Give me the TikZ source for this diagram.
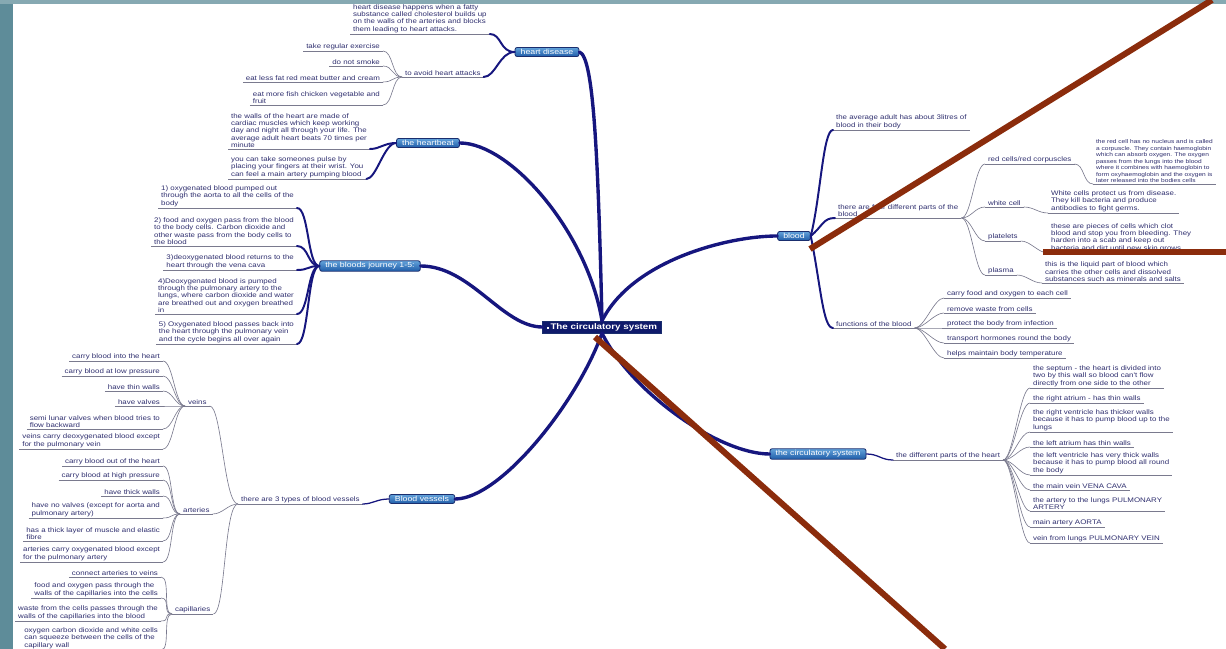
\documentclass[tikz,border=0pt]{standalone}
\usepackage{fontspec}
\usepackage{tikz}
\usetikzlibrary{positioning}
\usepackage{xcolor}
\definecolor{navyline}{HTML}{16167E}
\definecolor{inkblue}{HTML}{2E2E6E}
\definecolor{twiggrey}{HTML}{7A7A8E}
\definecolor{boxtop}{HTML}{62A2DA}
\definecolor{boxbot}{HTML}{1F5CA8}
\definecolor{boxedge}{HTML}{1A2E6E}
\definecolor{hubfill}{HTML}{0F1A6B}
\definecolor{rust}{HTML}{8B2C0C}
\definecolor{slate}{HTML}{5E8C99}
\newfontfamily\mapfont[FakeStretch=1.2]{Liberation Sans}
\newcommand{\leaffont}{\mapfont\fontsize{4.7}{5.2}\selectfont}
\newcommand{\smallleaffont}{\mapfont\fontsize{3.9}{4.6}\selectfont}
\newcommand{\boxfont}{\mapfont\fontsize{5.2}{6}\selectfont}
\newcommand{\hubfont}{\mapfont\bfseries\fontsize{5.8}{7}\selectfont}

\begin{document}
\begin{tikzpicture}[x=0.025cm, y=-0.025cm,
        hub/.style={rectangle, draw=boxedge, fill=hubfill, text=white,
          font=\hubfont, inner xsep=3pt, inner ysep=1.5pt},
        topic/.style={rectangle, rounded corners=1.5pt, draw=boxedge,
          line width=0.6pt, top color=boxtop, bottom color=boxbot,
          text=white, font=\boxfont, inner xsep=4pt, inner ysep=1.3pt},
        uline/.style={draw=twiggrey, line width=0.45pt},
        leaf/.style={font=\leaffont, text=inkblue, align=left,
          inner xsep=2pt, inner ysep=0.8pt,
          append after command={(\tikzlastnode.south west)
            edge[uline] (\tikzlastnode.south east)}},
        twig/.style={draw=twiggrey, line width=0.45pt},
        trunk/.style={draw=navyline, line width=2.4pt, line cap=round},
        bough/.style={draw=navyline, line width=1.4pt, line cap=round},
        slash/.style={draw=rust, line width=4.3pt},
      ]

      \useasboundingbox (0,0) rectangle (1226,649);
      \clip (0,0) rectangle (1226,649);

      % Slide edges
      \fill[slate] (0,0) rectangle (13,649);
      \fill[slate!75] (0,0) rectangle (1226,4);

      % Centre
      \node[hub] (cs) at (602,327) {\rule{1.6pt}{1.6pt}\,The circulatory system};

      % Main topics
      \node[topic] (hd) at (547,52) {heart disease};
      \node[topic] (hb) at (428,143) {the heartbeat};
      \node[topic] (bj) at (370,266) {the bloods journey 1-5:};
      \node[topic] (bv) at (422,499) {Blood vessels};
      \node[topic] (bl) at (794,236) {blood};
      \node[topic] (cr) at (818,454) {the circulatory system};

      % Trunks
      \draw[trunk] (cs.north) .. controls +(-4,-170) and +(14,4) .. (hd.east);
      \draw[trunk] (cs.north) .. controls +(-15,-90) and +(50,0) .. (hb.east);
      \draw[trunk] (cs.west) .. controls +(-40,0) and +(50,0) .. (bj.east);
      \draw[trunk] (cs.south) .. controls +(-25,70) and +(45,0) .. (bv.east);
      \draw[trunk] (cs.north) .. controls +(30,-60) and +(-50,0) .. (bl.west);
      \draw[trunk] (cs.south) .. controls +(30,60) and +(-50,0) .. (cr.west);

      % Heart disease
      \node[leaf, anchor=south west] (hdinfo) at (350,34)
        {heart disease happens when a fatty\\substance called cholesterol builds up\\on the walls of the arteries and blocks\\them leading to heart attacks.};
      \node[leaf, anchor=south west] (avoid) at (402,77) {to avoid heart attacks};
      \node[leaf, anchor=south east] (av1) at (383,51) {take regular exercise};
      \node[leaf, anchor=south east] (av2) at (383,66) {do not smoke};
      \node[leaf, anchor=south east] (av3) at (383,82) {eat less fat red meat butter and cream};
      \node[leaf, anchor=south east] (av4) at (383,105) {eat more fish chicken vegetable and\\fruit};
      \draw[bough] (hd.west) .. controls +(-15,0) and +(12,0) .. (hdinfo.south east);
      \draw[bough] (hd.west) .. controls +(-15,0) and +(12,0) .. (avoid.south east);
      \draw[twig] (avoid.south west) .. controls +(-10,0) and +(10,0) .. (av1.south east);
      \draw[twig] (avoid.south west) .. controls +(-10,0) and +(10,0) .. (av2.south east);
      \draw[twig] (avoid.south west) .. controls +(-10,0) and +(10,0) .. (av3.south east);
      \draw[twig] (avoid.south west) .. controls +(-10,0) and +(10,0) .. (av4.south east);

      % Heartbeat
      \node[leaf, anchor=south west] (hb1) at (228,149)
        {the walls of the heart are made of\\cardiac muscles which keep working\\day and night all through your life.  The\\average adult heart beats 70 times per\\minute};
      \node[leaf, anchor=south west] (hb2) at (228,179)
        {you can take someones pulse by\\placing your fingers at their wrist.  You\\can feel a main artery pumping blood};
      \draw[bough] (hb.west) .. controls +(-12,0) and +(10,0) .. (hb1.south east);
      \draw[bough] (hb.west) .. controls +(-12,0) and +(10,0) .. (hb2.south east);

      % Bloods journey
      \node[leaf, anchor=south east] (bj1) at (297,208)
        {1) oxygenated blood pumped out\\through the aorta to all the cells of the\\body};
      \node[leaf, anchor=south east] (bj2) at (297,246)
        {2) food and oxygen pass from the blood\\to the body cells. Carbon dioxide and\\other waste pass from the body cells to\\the blood};
      \node[leaf, anchor=south east] (bj3) at (297,270)
        {3)deoxygenated blood returns to the\\heart through the vena cava};
      \node[leaf, anchor=south east] (bj4) at (297,314)
        {4)Deoxygenated blood is pumped\\through the pulmonary artery to the\\lungs, where carbon dioxide and water\\are breathed out and oxygen breathed\\in};
      \node[leaf, anchor=south east] (bj5) at (297,344)
        {5) Oxygenated blood passes back into\\the heart through the pulmonary vein\\and the cycle begins all over again};
      \draw[bough] (bj.west) .. controls +(-12,0) and +(12,0) .. (bj1.south east);
      \draw[bough] (bj.west) .. controls +(-12,0) and +(12,0) .. (bj2.south east);
      \draw[bough] (bj.west) .. controls +(-12,0) and +(12,0) .. (bj3.south east);
      \draw[bough] (bj.west) .. controls +(-12,0) and +(12,0) .. (bj4.south east);
      \draw[bough] (bj.west) .. controls +(-12,0) and +(12,0) .. (bj5.south east);

      % Blood vessels
      \node[leaf, anchor=south west] (bvinfo) at (238,504) {there are 3 types of blood vessels};
      \node[leaf, anchor=south west] (veins) at (185,406) {veins};
      \node[leaf, anchor=south west] (arteries) at (180,514) {arteries};
      \node[leaf, anchor=south west] (caps) at (172,614) {capillaries};
      \draw[bough, line width=0.9pt] (bv.west) .. controls +(-12,0) and +(10,0) .. (bvinfo.south east);
      \draw[twig] (bvinfo.south west) .. controls +(-14,0) and +(12,0) .. (veins.south east);
      \draw[twig] (bvinfo.south west) .. controls +(-10,0) and +(10,0) .. (arteries.south east);
      \draw[twig] (bvinfo.south west) .. controls +(-14,0) and +(12,0) .. (caps.south east);

      % Veins
      \node[leaf, anchor=south east] (ve1) at (163,361) {carry blood into the heart};
      \node[leaf, anchor=south east] (ve2) at (163,376) {carry blood at low pressure};
      \node[leaf, anchor=south east] (ve3) at (163,391) {have thin walls};
      \node[leaf, anchor=south east] (ve4) at (163,406) {have valves};
      \node[leaf, anchor=south east] (ve5) at (163,429) {semi lunar valves when blood tries to\\flow backward};
      \node[leaf, anchor=south east] (ve6) at (163,449) {veins carry deoxygenated blood except\\for the pulmonary vein};
      \draw[twig] (veins.south west) .. controls +(-10,0) and +(10,0) .. (ve1.south east);
      \draw[twig] (veins.south west) .. controls +(-10,0) and +(10,0) .. (ve2.south east);
      \draw[twig] (veins.south west) .. controls +(-10,0) and +(10,0) .. (ve3.south east);
      \draw[twig] (veins.south west) .. controls +(-10,0) and +(10,0) .. (ve4.south east);
      \draw[twig] (veins.south west) .. controls +(-10,0) and +(10,0) .. (ve5.south east);
      \draw[twig] (veins.south west) .. controls +(-10,0) and +(10,0) .. (ve6.south east);

      % Arteries
      \node[leaf, anchor=south east] (ar1) at (163,466) {carry blood out of the heart};
      \node[leaf, anchor=south east] (ar2) at (163,480) {carry blood at high pressure};
      \node[leaf, anchor=south east] (ar3) at (163,496) {have thick walls};
      \node[leaf, anchor=south east] (ar4) at (163,518) {have no valves (except for aorta and\\pulmonary artery)};
      \node[leaf, anchor=south east] (ar5) at (163,541) {has a thick layer of muscle and elastic\\fibre};
      \node[leaf, anchor=south east] (ar6) at (163,562) {arteries carry oxygenated blood except\\for the pulmonary artery};
      \draw[twig] (arteries.south west) .. controls +(-10,0) and +(10,0) .. (ar1.south east);
      \draw[twig] (arteries.south west) .. controls +(-10,0) and +(10,0) .. (ar2.south east);
      \draw[twig] (arteries.south west) .. controls +(-10,0) and +(10,0) .. (ar3.south east);
      \draw[twig] (arteries.south west) .. controls +(-10,0) and +(10,0) .. (ar4.south east);
      \draw[twig] (arteries.south west) .. controls +(-10,0) and +(10,0) .. (ar5.south east);
      \draw[twig] (arteries.south west) .. controls +(-10,0) and +(10,0) .. (ar6.south east);

      % Capillaries
      \node[leaf, anchor=south east] (ca1) at (161,577) {connect arteries to veins};
      \node[leaf, anchor=south east] (ca2) at (161,598) {food and oxygen pass through the\\walls of the capillaries into the cells};
      \node[leaf, anchor=south east] (ca3) at (161,621) {waste  from the cells passes through the\\walls of the capillaries into the blood};
      \node[leaf, anchor=south east] (ca4) at (161,650) {oxygen carbon dioxide and white cells\\can squeeze between the cells of the\\capillary wall};
      \draw[twig] (caps.south west) .. controls +(-10,0) and +(10,0) .. (ca1.south east);
      \draw[twig] (caps.south west) .. controls +(-10,0) and +(10,0) .. (ca2.south east);
      \draw[twig] (caps.south west) .. controls +(-10,0) and +(10,0) .. (ca3.south east);
      \draw[twig] (caps.south west) .. controls +(-10,0) and +(10,0) .. (ca4.south east);

      % Blood
      \node[leaf, anchor=south west] (bl1) at (833,130) {the average adult has about 3litres of\\blood in their body};
      \node[leaf, anchor=south west] (bl2) at (835,218) {there are four different parts of the\\blood};
      \node[leaf, anchor=south west] (bl3) at (833,328) {functions of the blood};
      \draw[bough] (bl.east) .. controls +(10,-40) and +(-10,0) .. (bl1.south west);
      \draw[bough] (bl.east) .. controls +(12,-10) and +(-12,0) .. (bl2.south west);
      \draw[bough] (bl.east) .. controls +(10,50) and +(-10,0) .. (bl3.south west);

      % Parts of the blood
      \node[leaf, anchor=south west] (rc) at (985,164) {red cells/red corpuscles};
      \node[leaf, anchor=south west] (wc) at (985,207) {white cell};
      \node[leaf, anchor=south west] (pl) at (985,241) {platelets};
      \node[leaf, anchor=south west] (pm) at (985,275) {plasma};
      \draw[twig] (bl2.south east) .. controls +(10,0) and +(-10,0) .. (rc.south west);
      \draw[twig] (bl2.south east) .. controls +(10,0) and +(-10,0) .. (wc.south west);
      \draw[twig] (bl2.south east) .. controls +(10,0) and +(-10,0) .. (pl.south west);
      \draw[twig] (bl2.south east) .. controls +(10,0) and +(-10,0) .. (pm.south west);

      \node[leaf, font=\smallleaffont, anchor=south west] (rcinfo) at (1093,184)
        {the red cell has no nucleus and is called\\a corpuscle.  They contain haemoglobin\\which can absorb oxygen. The oxygen\\passes from the lungs into the  blood\\where it combines with haemoglobin to\\form oxyhaemoglobin and the oxygen is\\later released into the bodies cells};
      \node[leaf, anchor=south west] (wcinfo) at (1048,213)
        {White cells protect us from disease.\\They kill bacteria and produce\\antibodies to fight germs.};
      \node[leaf, anchor=south west] (plinfo) at (1048,253)
        {these are pieces of cells which clot\\blood and stop you from bleeding.  They\\harden into a scab and keep out\\bacteria and dirt until new skin grows};
      \node[leaf, anchor=south west] (pminfo) at (1042,283)
        {this is the liquid part of blood which\\carries the other cells and dissolved\\substances such as minerals and salts};
      \draw[twig] (rc.south east) .. controls +(10,0) and +(-10,0) .. (rcinfo.south west);
      \draw[twig] (wc.south east) .. controls +(10,0) and +(-10,0) .. (wcinfo.south west);
      \draw[twig] (pl.south east) .. controls +(10,0) and +(-10,0) .. (plinfo.south west);
      \draw[twig] (pm.south east) .. controls +(10,0) and +(-10,0) .. (pminfo.south west);

      % Functions of the blood
      \node[leaf, anchor=south west] (fn1) at (944,298) {carry food and oxygen to each  cell};
      \node[leaf, anchor=south west] (fn2) at (944,313) {remove waste from cells};
      \node[leaf, anchor=south west] (fn3) at (944,328) {protect the body from  infection};
      \node[leaf, anchor=south west] (fn4) at (944,343) {transport hormones round the body};
      \node[leaf, anchor=south west] (fn5) at (944,358) {helps maintain body temperature};
      \draw[twig] (bl3.south east) .. controls +(10,0) and +(-10,0) .. (fn1.south west);
      \draw[twig] (bl3.south east) .. controls +(10,0) and +(-10,0) .. (fn2.south west);
      \draw[twig] (bl3.south east) .. controls +(10,0) and +(-10,0) .. (fn3.south west);
      \draw[twig] (bl3.south east) .. controls +(10,0) and +(-10,0) .. (fn4.south west);
      \draw[twig] (bl3.south east) .. controls +(10,0) and +(-10,0) .. (fn5.south west);

      % Parts of the heart
      \node[leaf, anchor=south west] (crinfo) at (893,460) {the different parts of the heart};
      \draw[bough, line width=0.9pt] (cr.east) .. controls +(12,0) and +(-12,0) .. (crinfo.south west);
      \node[leaf, anchor=south west] (pt1) at (1030,388)
        {the septum - the heart is divided into\\two by this wall so blood can't flow\\directly from one side to the other};
      \node[leaf, anchor=south west] (pt2) at (1030,403) {the right atrium - has thin walls};
      \node[leaf, anchor=south west] (pt3) at (1030,432)
        {the right ventricle has thicker walls\\because it has to pump blood up to the\\lungs};
      \node[leaf, anchor=south west] (pt4) at (1030,447) {the left atrium has thin walls};
      \node[leaf, anchor=south west] (pt5) at (1030,475)
        {the left ventricle has very thick walls\\because it has to pump blood all round\\the body};
      \node[leaf, anchor=south west] (pt6) at (1030,490) {the main vein VENA CAVA};
      \node[leaf, anchor=south west] (pt7) at (1030,511) {the artery to the lungs PULMONARY\\ARTERY};
      \node[leaf, anchor=south west] (pt8) at (1030,527) {main artery AORTA};
      \node[leaf, anchor=south west] (pt9) at (1030,543) {vein from lungs PULMONARY VEIN};
      \draw[twig] (crinfo.south east) .. controls +(10,0) and +(-10,0) .. (pt1.south west);
      \draw[twig] (crinfo.south east) .. controls +(10,0) and +(-10,0) .. (pt2.south west);
      \draw[twig] (crinfo.south east) .. controls +(10,0) and +(-10,0) .. (pt3.south west);
      \draw[twig] (crinfo.south east) .. controls +(10,0) and +(-10,0) .. (pt4.south west);
      \draw[twig] (crinfo.south east) .. controls +(10,0) and +(-10,0) .. (pt5.south west);
      \draw[twig] (crinfo.south east) .. controls +(10,0) and +(-10,0) .. (pt6.south west);
      \draw[twig] (crinfo.south east) .. controls +(10,0) and +(-10,0) .. (pt7.south west);
      \draw[twig] (crinfo.south east) .. controls +(10,0) and +(-10,0) .. (pt8.south west);
      \draw[twig] (crinfo.south east) .. controls +(10,0) and +(-10,0) .. (pt9.south west);

      % Strokes over the slide
      \draw[slash] (810,249) -- (1212,0);
      \draw[slash] (1043,252) -- (1226,252);
      \draw[slash] (595,337) -- (945,649);

      \end{tikzpicture}
\end{document}
